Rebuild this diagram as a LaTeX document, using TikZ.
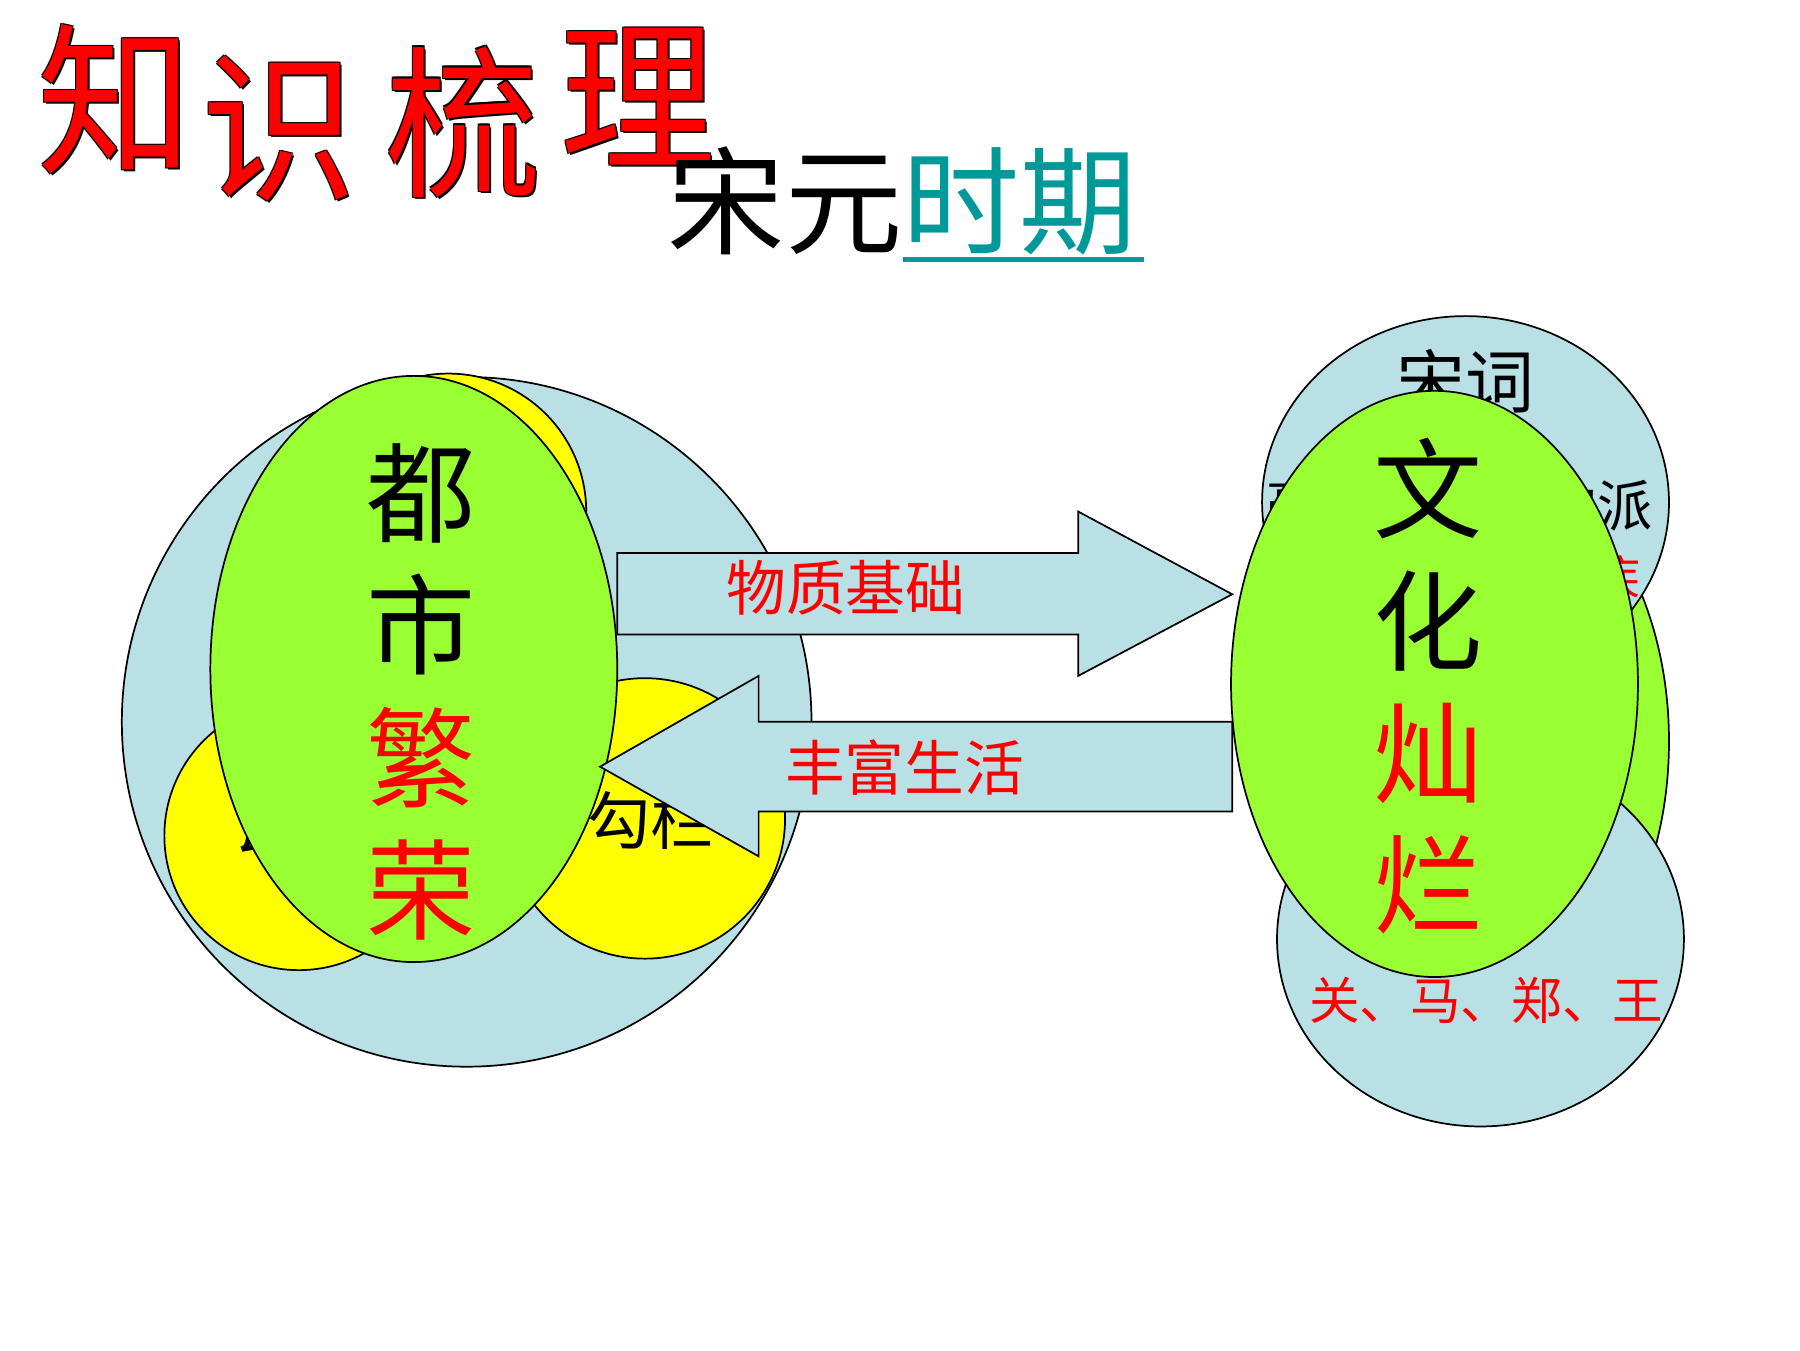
\documentclass[tikz,border=0pt]{standalone}
\usepackage{fontspec}
\newfontfamily\cjk{Noto Sans CJK SC}
\definecolor{lblue}{RGB}{185,224,228}
\definecolor{lgreen}{RGB}{153,255,51}
\definecolor{tealc}{RGB}{0,153,153}
\definecolor{ylw}{RGB}{255,255,0}
\newcommand\fsz[2]{\cjk\fontsize{#1}{#2}\selectfont}
\tikzset{
  outl/.style={draw=black, line width=0.75pt},
  blueblob/.style={outl, fill=lblue},
  greenblob/.style={outl, fill=lgreen},
  yellowblob/.style={outl, fill=ylw},
  arrowbox/.style={outl, fill=lblue, line join=miter},
  txt/.style={inner sep=0pt, outer sep=0pt},
  titlech/.style={txt, font=\fsz{67.5pt}{70pt}, yscale=1.05},
  bigcol/.style={txt, align=center, font=\fsz{47.5pt}{57.5pt}},
}
\newcommand\wchar[4]{% name, x, y, char
  \foreach \dx/\dy in {-0.9/-0.9,0.9/-0.9,-0.9/0.9,1.8/1.8}{%
    \node[titlech, text=black] at (#2+\dx,#3+\dy) {#4};}
  \node[titlech, text=red] (#1) at (#2,#3) {#4};}
\begin{document}
\begin{tikzpicture}[x=0.5pt,y=-0.5pt]
\useasboundingbox[fill=white] (0,0) rectangle (1566,1174.5);

% ---- title ----
\wchar{tz}{100}{86}{知}
\wchar{ts}{243}{112}{识}
\wchar{tl}{403}{106}{梳}
\wchar{tm}{555}{84}{理}

\node[txt, font=\fsz{51pt}{55pt}] (period) at (785,175) {宋元\textcolor{tealc}{时期}};
\coordinate (ul1) at (786,226);
\coordinate (ul2) at (995,226);
\draw[tealc, line width=2pt] (ul1) -- (ul2);

% ---- left cluster ----
\draw[blueblob] (406,628) circle [radius=300];
\draw[yellowblob] (390,445) circle [radius=120];
\draw[yellowblob] (260,727) circle [radius=117];
\node[txt, font=\fsz{27.5pt}{30pt}] (wazi) at (258,718) {瓦子};
\draw[yellowblob] (561,712) circle [radius=122];
\node[txt, font=\fsz{27.5pt}{30pt}] (goulan) at (566,714) {勾栏};
\draw[greenblob] (360,582) ellipse [x radius=177, y radius=255];
\node[bigcol] (dushi) at (366,602) {都\\市\\\textcolor{red}{繁}\\\textcolor{red}{荣}};

% ---- right cluster ----
\draw[greenblob] (1275,645) ellipse [x radius=177, y radius=255];
\draw[blueblob] (1275,437) ellipse [x radius=177, y radius=162];
\node[txt, font=\fsz{30pt}{32pt}] (songci) at (1275,332) {宋词};
\node[txt, font=\fsz{24pt}{26pt}] (pai) at (1270,440) {豪放派、婉约派};
\node[txt, font=\fsz{20pt}{22pt}, text=red] (ren) at (1307,502) {苏轼、辛弃疾};
\draw[blueblob] (1288,817) ellipse [x radius=177, y radius=163];
\node[txt, font=\fsz{22pt}{24pt}, text=red] (guan) at (1293,870) {关、马、郑、王};
\draw[greenblob] (1248,595) ellipse [x radius=177, y radius=255];
\node[bigcol] (wenhua) at (1242,597) {文\\化\\\textcolor{red}{灿}\\\textcolor{red}{烂}};

% ---- arrows ----
\draw[arrowbox] (537,481) -- (938,481) -- (938,445) -- (1072,517) -- (938,588) -- (938,552) -- (537,552) -- cycle;
\node[txt, font=\fsz{26pt}{28pt}, text=red] (wuzhi) at (736,511) {物质基础};
\draw[arrowbox] (1072,628) -- (660,628) -- (660,588) -- (522,667) -- (660,745) -- (660,706) -- (1072,706) -- cycle;
\node[txt, font=\fsz{26pt}{28pt}, text=red] (fengfu) at (787,668) {丰富生活};
\end{tikzpicture}
\end{document}
